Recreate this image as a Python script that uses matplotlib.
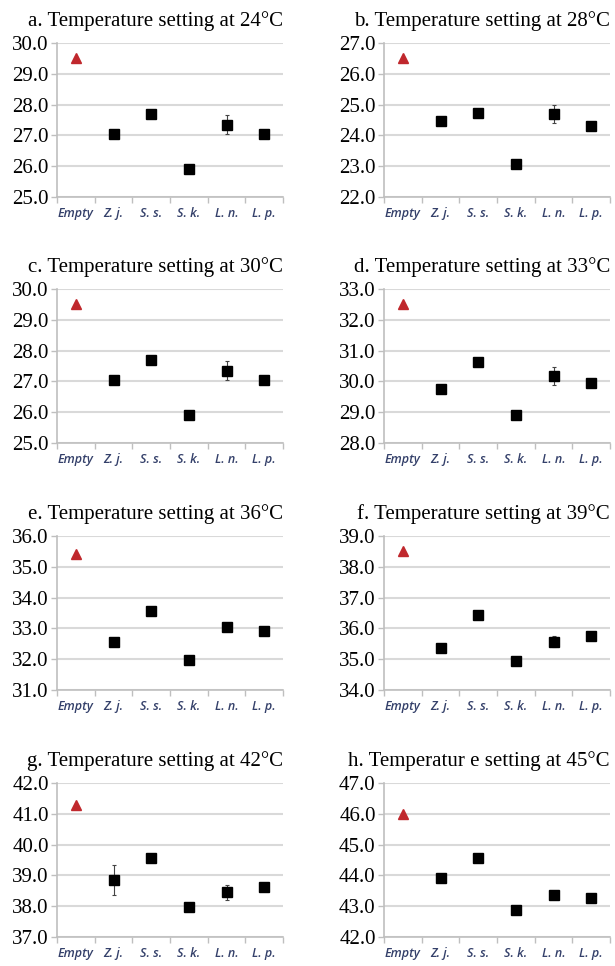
import matplotlib

matplotlib.use("Agg")
import matplotlib.pyplot as plt
from matplotlib.ticker import FormatStrFormatter

# categories on the x axis
categories = ["Empty", "Z. j.", "S. s.", "S. k.", "L. n.", "L. p."]

panel_labels = ["a.", "b.", "c.", "d.", "e.", "f.", "g.", "h."]
settings = [24, 28, 30, 33, 36, 39, 42, 45]
title_words = ["Temperature setting at"] * 7 + ["Temperatur e setting at"]
y_lows = [25, 22, 25, 28, 31, 34, 37, 42]

# empty-box temperature (red triangle)
empty_vals = [29.5, 26.5, 29.5, 32.5, 35.4, 38.5, 41.27, 46.0]

# species means: Z.j., S.s., S.k., L.n., L.p.
species_vals = [
    [27.05, 27.68, 25.90, 27.35, 27.05],
    [24.47, 24.72, 23.07, 24.70, 24.30],
    [27.05, 27.68, 25.92, 27.35, 27.05],
    [29.75, 30.63, 28.92, 30.17, 29.95],
    [32.55, 33.57, 31.97, 33.03, 32.93],
    [35.37, 36.45, 34.93, 35.57, 35.75],
    [38.85, 39.58, 37.97, 38.45, 38.62],
    [43.90, 44.57, 42.88, 43.35, 43.28],
]
species_errs = [
    [0.05, 0.05, 0.05, 0.30, 0.05],
    [0.05, 0.05, 0.05, 0.30, 0.05],
    [0.05, 0.05, 0.05, 0.30, 0.05],
    [0.05, 0.05, 0.05, 0.30, 0.05],
    [0.05, 0.05, 0.05, 0.05, 0.05],
    [0.12, 0.05, 0.12, 0.18, 0.05],
    [0.48, 0.05, 0.05, 0.25, 0.05],
    [0.08, 0.08, 0.05, 0.08, 0.05],
]

GRID = "#d9d9d9"
AXIS = "#bfbfbf"
RED = "#c0282d"
XLAB = "#34406a"

W, H = 615, 966
fig = plt.figure(figsize=(W / 100, H / 100), dpi=100)

col_left = [57, 384]
ax_w = 226
row_tops = [43, 289, 536, 783]
ax_h = 154

for i in range(8):
    r, c = divmod(i, 2)
    left = col_left[c] / W
    bottom = 1 - (row_tops[r] + ax_h) / H
    ax = fig.add_axes([left, bottom, ax_w / W, ax_h / H])

    xs = list(range(len(categories)))
    ax.plot([xs[0]], [empty_vals[i]], marker="^", color=RED, markersize=6.5,
            linestyle="none", zorder=3)
    ax.errorbar(xs[1:], species_vals[i], yerr=species_errs[i], fmt="s",
                color="black", markersize=7, ecolor="#444444", elinewidth=0.8,
                capsize=1.5, capthick=0.8, zorder=3)

    lo = y_lows[i]
    ax.set_ylim(lo, lo + 5)
    ax.set_yticks(range(lo, lo + 6))
    ax.yaxis.set_major_formatter(FormatStrFormatter("%.1f"))
    ax.set_xlim(-0.5, len(categories) - 0.5)

    # category labels centred, tick marks on boundaries (Excel look)
    ax.set_xticks([x - 0.5 for x in range(len(categories) + 1)])
    ax.set_xticklabels([])
    ax.set_xticks(xs, minor=True)
    ax.set_xticklabels(categories, minor=True, fontstyle="italic",
                       family="Open Sans", fontsize=9, color=XLAB,
                       fontweight="semibold")
    ax.tick_params(axis="x", which="major", direction="out", length=4,
                   color=AXIS, width=1)
    ax.tick_params(axis="x", which="minor", length=0, pad=7)
    ax.tick_params(axis="y", direction="out", length=4, color=AXIS, width=1,
                   pad=2, labelsize=15)
    for lab in ax.get_yticklabels():
        lab.set_family("Liberation Serif")

    ax.grid(axis="y", color=GRID, linewidth=1.5)
    ax.set_axisbelow(True)
    for s in ["top", "right"]:
        ax.spines[s].set_visible(False)
    for s in ["left", "bottom"]:
        ax.spines[s].set_color(AXIS)
        ax.spines[s].set_linewidth(1.2)

    ax.set_title(f"{panel_labels[i]} {title_words[i]} {settings[i]}°C",
                 loc="right", family="Liberation Serif", fontsize=15, pad=12)

fig.savefig("out.png", dpi=100)
plt.close(fig)
